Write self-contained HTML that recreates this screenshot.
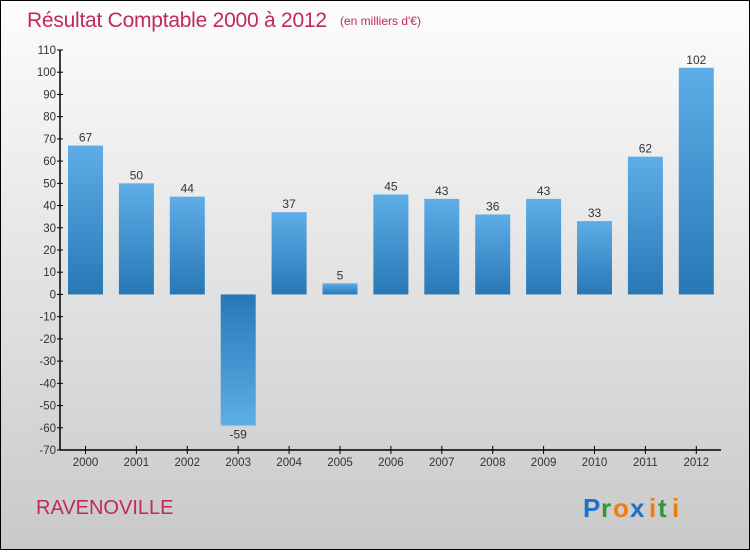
<!DOCTYPE html>
<html><head><meta charset="utf-8"><style>
html,body{margin:0;padding:0}
body{width:750px;height:550px;overflow:hidden;font-family:"Liberation Sans",sans-serif}
</style></head><body>
<svg width="750" height="550" xmlns="http://www.w3.org/2000/svg">
<defs>
<linearGradient id="bg" x1="0" y1="0" x2="0" y2="1"><stop offset="0" stop-color="#fdfdfd"/><stop offset="1" stop-color="#c9c9c9"/></linearGradient>
<linearGradient id="pos" x1="0" y1="0" x2="0" y2="1"><stop offset="0" stop-color="#5eade8"/><stop offset="1" stop-color="#2878b6"/></linearGradient>
<linearGradient id="neg" x1="0" y1="0" x2="0" y2="1"><stop offset="0" stop-color="#2878b6"/><stop offset="1" stop-color="#5eade8"/></linearGradient>
</defs>
<rect x="0.5" y="0.5" width="749" height="549" fill="url(#bg)" stroke="#000"/>
<text x="27" y="27" font-size="21" fill="#c0295a" textLength="300">Résultat Comptable 2000 à 2012</text>
<text x="340" y="25" font-size="12" fill="#c0295a">(en milliers d'€)</text>
<g id="plot"></g>
<text x="36" y="514" font-size="20" fill="#c0295a">RAVENOVILLE</text>
<g font-size="26" font-weight="bold">
<text x="583" y="517" fill="#1a73c9">P</text><text x="601" y="517" fill="#2c9a3a">r</text><text x="613" y="517" fill="#f07d10">o</text><text x="630" y="517" fill="#1a73c9">x</text><text x="649" y="517" fill="#f07d10">i</text><text x="658" y="517" fill="#2c9a3a">t</text><text x="672" y="517" fill="#f07d10">i</text>
</g>
</svg>
<script>
const years=["2000","2001","2002","2003","2004","2005","2006","2007","2008","2009","2010","2011","2012"];
const values=[67,50,44,-59,37,5,45,43,36,43,33,62,102];
const yTicks=[110,100,90,80,70,60,50,40,30,20,10,0,-10,-20,-30,-40,-50,-60,-70];
const NS="http://www.w3.org/2000/svg";
const plotG=document.getElementById('plot');
const yMin=-70,yMax=110,pTop=50,pBot=450,pLeft=60,pRight=721;
function yS(v){return pBot-(v-yMin)*(pBot-pTop)/(yMax-yMin);}
function xS(i){return 85.5+i*50.9;}
function mk(t,a){const e=document.createElementNS(NS,t);for(const k in a)e.setAttribute(k,a[k]);plotG.appendChild(e);return e;}
values.forEach((v,i)=>{
 const y0=yS(0),yv=yS(v);
 const r=mk('rect',{x:xS(i)-17.5,y:Math.min(y0,yv),width:35,height:Math.abs(yv-y0),fill:v>=0?'url(#pos)':'url(#neg)'});
 
 
 const t=mk('text',{x:xS(i),y:v>=0?yv-4:yv+13,'text-anchor':'middle','font-size':'12',fill:'#333'});
 t.textContent=v;
 
 
 const tk=mk('line',{x1:xS(i),x2:xS(i),y1:pBot-4,y2:pBot+4,stroke:'#000'});
 
 
 const xl=mk('text',{x:xS(i),y:pBot+16,'text-anchor':'middle','font-size':'11.5',fill:'#333'});
 xl.textContent=years[i];
 
 
});
yTicks.forEach(v=>{
 const l=mk('line',{x1:pLeft-3,x2:pLeft+3,y1:yS(v),y2:yS(v),stroke:'#000'});
 
 
 const t=mk('text',{x:pLeft-4,y:yS(v)+4,'text-anchor':'end','font-size':'11.5',fill:'#333'});
 t.textContent=v;
 
 
});
const ya=mk('line',{x1:pLeft,x2:pLeft,y1:pTop,y2:pBot,stroke:'#000','stroke-width':1.5});


const xa=mk('line',{x1:pLeft,x2:pRight,y1:pBot,y2:pBot,stroke:'#000','stroke-width':1.5});


</script>
</body></html>
